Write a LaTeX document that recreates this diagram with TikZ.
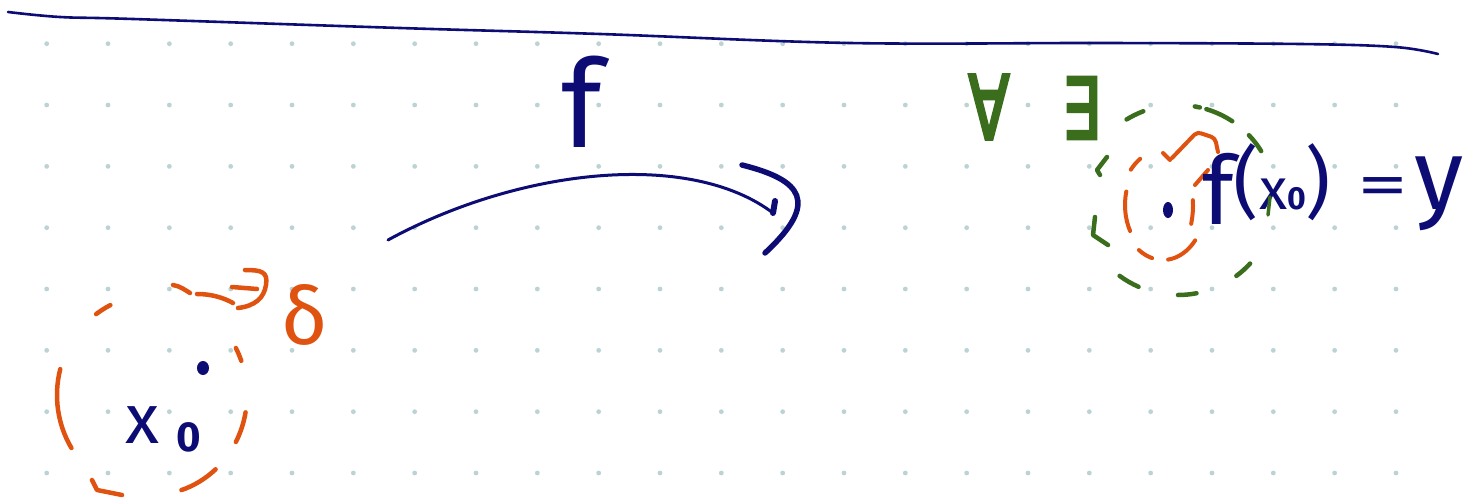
\documentclass[tikz,border=0pt]{standalone}
\usepackage{fontspec}
\usepackage{graphicx}
\setmainfont{Fira Sans}
\newfontfamily\dejavufb[FakeBold=4]{DejaVu Sans}
\definecolor{inknavy}{HTML}{0C0C74}
\definecolor{inkorange}{HTML}{E0520F}
\definecolor{inkgreen}{HTML}{3A6E1C}
\definecolor{dotc}{HTML}{BCD3D3}
\tikzset{
  navyline/.style={draw=inknavy,line width=3pt,line cap=round,line join=round},
  og/.style={draw=inkorange,line width=4.5pt,line cap=round,line join=round},
  gr/.style={draw=inkgreen,line width=4.5pt,line cap=round,line join=round},
  handtext/.style={inner sep=0pt,outer sep=0pt},
}
\begin{document}
\begin{tikzpicture}[x=1pt,y=1pt]
\useasboundingbox (0,0) rectangle (1468,-500);
\fill[white] (0,0) rectangle (1468,-500);
% dot grid
\foreach \i in {0,...,22}{
  \foreach \j in {0,...,7}{
    \fill[dotc] ({46.7+61.33*\i},{-43.7-61.33*\j}) circle (2.4);
  }
}
% top rule
\draw[navyline,line width=2.6pt] plot[smooth,tension=0.6] coordinates
  {(8,-12) (60,-17) (133,-19) (400,-28) (600,-34) (850,-43) (1100,-43) (1300,-44) (1395,-47) (1438,-54)};

% ---------- arrow f ----------
\coordinate (arrS) at (388,-240);
\coordinate (arrE) at (773,-213);
\draw[navyline] (arrS) .. controls (520,-168) and (690,-150) .. (arrE);
\draw[navyline,line width=6pt] (arrE) -- ++(2,12);
\draw[navyline,line width=5.5pt] (742,-165) .. controls (802,-180) and (820,-202) .. (765,-253);
\node[handtext,text=inknavy,anchor=base west] (flabel) at (561,-148)
  {\fontsize{122}{122}\selectfont f};

% ---------- left neighbourhood ----------
\coordinate (L) at (152,-395);
\draw[og] ([shift={(L)}]165:95 and 100) arc[start angle=165,end angle=212,x radius=95,y radius=100];
\draw[og] (92,-480) -- (97,-490) -- (122,-495);
\draw[og] ([shift={(L)}]288:95 and 100) arc[start angle=288,end angle=312,x radius=95,y radius=100];
\draw[og] ([shift={(L)}]332:95 and 100) arc[start angle=332,end angle=350,x radius=95,y radius=100];
\draw[og] ([shift={(L)}]20:95 and 100) arc[start angle=20,end angle=28,x radius=95,y radius=100];
\draw[og] ([shift={(L)}]116:95 and 100) arc[start angle=116,end angle=126,x radius=95,y radius=100];
\draw[og] (173,-285) .. controls (180,-286) and (185,-290) .. (190,-293);
\draw[og] (197,-294) .. controls (212,-294) and (224,-298) .. (233,-303);
\draw[og] (245,-270) .. controls (262,-270) and (268,-272) .. (266,-285)
          .. controls (264,-298) and (255,-306) .. (238,-308);
\draw[og] (232,-287) -- (257,-289);
\node[handtext,text=inkorange,anchor=base west] (delta) at (281,-344)
  {\fontsize{80}{80}\selectfont δ};
\fill[inknavy] (203,-368) ellipse (6 and 7);
\node[handtext,text=inknavy,anchor=base west] (x0) at (125,-443)
  {\fontsize{70}{70}\selectfont x\hspace{18pt}\raisebox{-8pt}{\fontsize{42}{42}\selectfont\bfseries 0}};

% ---------- right neighbourhoods ----------
\coordinate (G) at (1178,-200);
\draw[gr] ([shift={(G)}]56:97 and 95) arc[start angle=56,end angle=73,x radius=97,y radius=95];
\draw[gr] ([shift={(G)}]77:97 and 95) arc[start angle=77,end angle=80,x radius=97,y radius=95];
\draw[gr] ([shift={(G)}]31:97 and 95) arc[start angle=31,end angle=43,x radius=97,y radius=95];
\draw[gr] ([shift={(G)}]111:97 and 95) arc[start angle=111,end angle=122,x radius=97,y radius=95];
\draw[gr] (1107,-157) -- (1097,-170) -- (1100,-175);
\draw[gr] (1095,-217) -- (1093,-235) -- (1108,-245);
\draw[gr] ([shift={(G)}]233:97 and 95) arc[start angle=233,end angle=246,x radius=97,y radius=95];
\draw[gr] ([shift={(G)}]270:97 and 95) arc[start angle=270,end angle=281,x radius=97,y radius=95];
\draw[gr] ([shift={(G)}]307:97 and 95) arc[start angle=307,end angle=318,x radius=97,y radius=95];

\coordinate (O) at (1163,-205);
\draw[og,line width=4pt] (1163,-153) -- (1170,-160);
\draw[og,line width=4pt,rounded corners=4pt] (1172,-158) -- (1197,-132) -- (1215,-138) -- (1218,-152);
\draw[og,line width=4pt] ([shift={(O)}]123:42 and 55) arc[start angle=123,end angle=140,x radius=42,y radius=55];
\draw[og,line width=4pt] ([shift={(O)}]165:38 and 52) arc[start angle=165,end angle=210,x radius=38,y radius=52];
\draw[og,line width=4pt] ([shift={(O)}]235:42 and 55) arc[start angle=235,end angle=255,x radius=42,y radius=55];
\draw[og,line width=4pt] ([shift={(O)}]277:42 and 55) arc[start angle=277,end angle=320,x radius=42,y radius=55];
\draw[og,line width=4pt] ([shift={(O)}]340:30 and 55) arc[start angle=340,end angle=365,x radius=30,y radius=55];
\draw[og,line width=4pt] (1195,-185) -- (1208,-170);
\fill[inknavy] (1168,-210) ellipse (5 and 8);

\node[handtext,text=inknavy,anchor=base west] (fx) at (1202,-209)
  {\raisebox{-16pt}{\fontsize{95}{95}\selectfont f}%
   {\fontsize{78}{78}\selectfont (}%
   {\fontsize{58}{58}\selectfont x}%
   {\fontsize{32}{32}\selectfont\bfseries 0}%
   {\fontsize{78}{78}\selectfont )}%
   \hspace{26pt}\raisebox{4pt}{\scalebox{1.7}[1]{\fontsize{60}{60}\selectfont =}}%
   \hspace{6pt}{\fontsize{100}{100}\selectfont y}};
\draw[gr,line width=3.5pt] (1270,-197) -- (1268,-215);

\node[handtext,text=inkgreen] (forall) at (989,-107)
  {\scalebox{0.68}[1]{\dejavufb\fontsize{88}{88}\selectfont ∀}};
\node[handtext,text=inkgreen] (exists) at (1081,-108)
  {\scalebox{0.72}[1]{\dejavufb\fontsize{84}{84}\selectfont ∃}};
\end{tikzpicture}
\end{document}
